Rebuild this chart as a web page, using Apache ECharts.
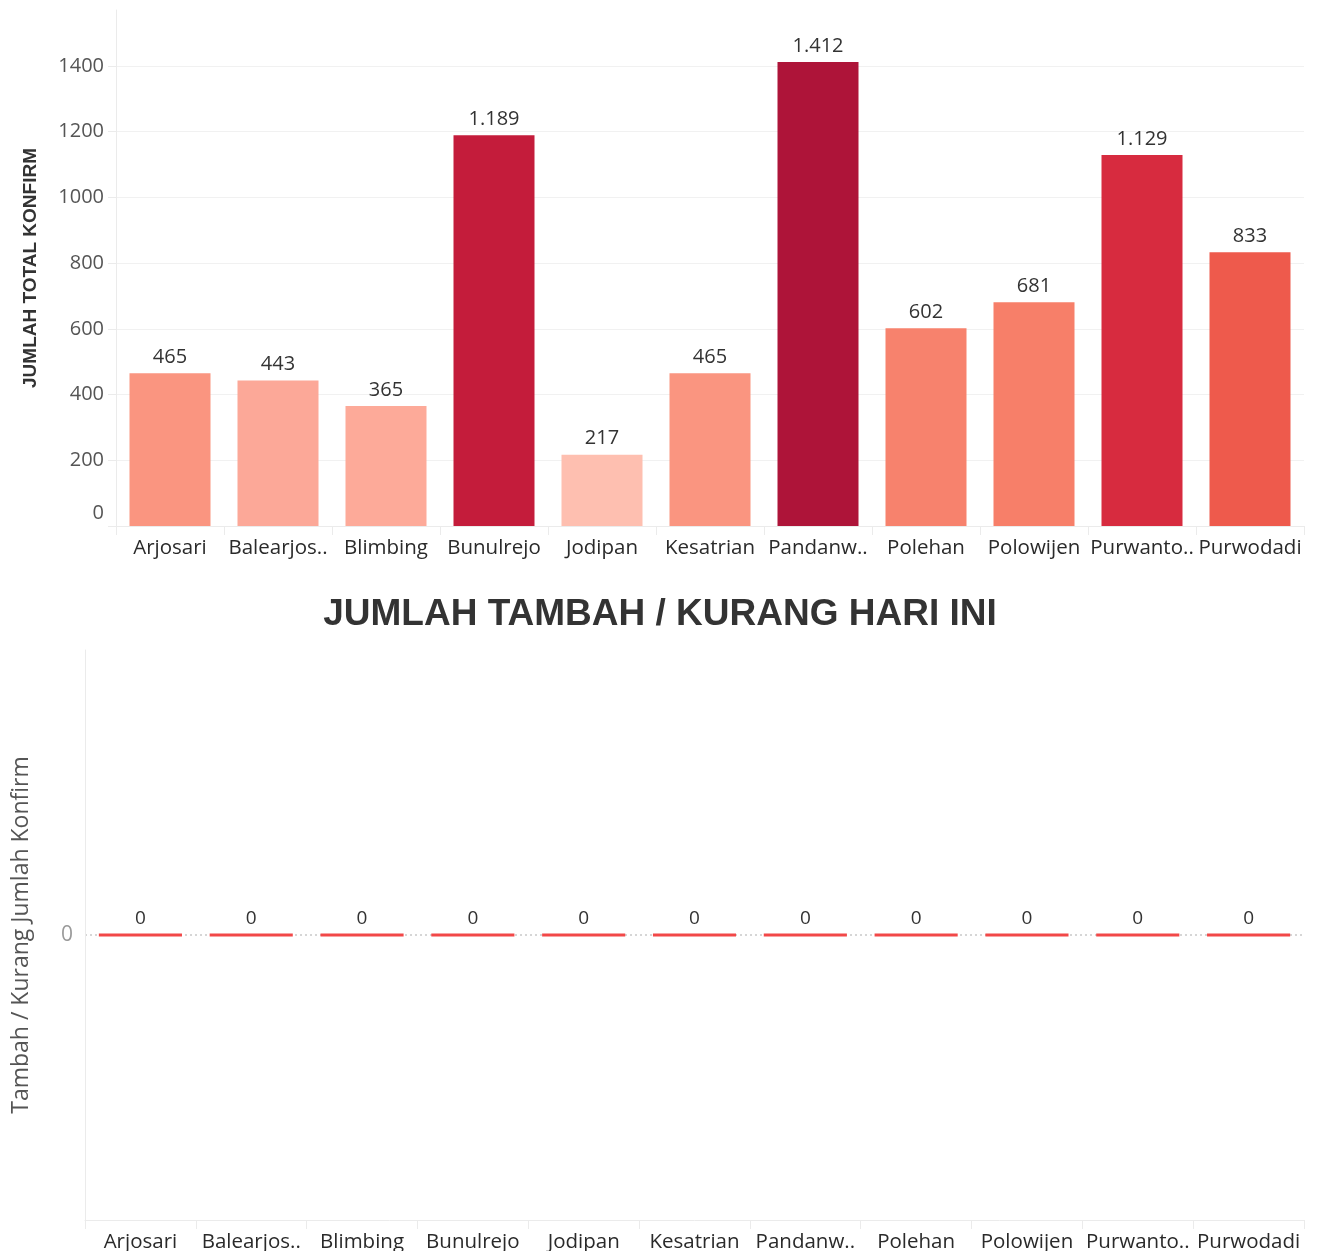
<!DOCTYPE html>
<html>
<head>
<meta charset="utf-8">
<script src="https://cdn.jsdelivr.net/npm/echarts@6/dist/echarts.min.js"></script>
<style>
  html, body { margin: 0; padding: 0; background: #fff; }
  #chart { width: 1319px; height: 1251px; }
</style>
</head>
<body>
<div id="chart"></div>
<script>
// Kelurahan names, shown labels and totals
const categories = ['Arjosari', 'Balearjosari', 'Blimbing', 'Bunulrejo', 'Jodipan', 'Kesatrian',
  'Pandanwangi', 'Polehan', 'Polowijen', 'Purwantoro', 'Purwodadi'];
const tickLabels = ['Arjosari', 'Balearjos..', 'Blimbing', 'Bunulrejo', 'Jodipan', 'Kesatrian',
  'Pandanw..', 'Polehan', 'Polowijen', 'Purwanto..', 'Purwodadi'];
const totalKonfirm = [465, 443, 365, 1189, 217, 465, 1412, 602, 681, 1129, 833];
const tambahKurang = [0, 0, 0, 0, 0, 0, 0, 0, 0, 0, 0];
const totalTicks = [0, 200, 400, 600, 800, 1000, 1200, 1400];

// colour of each bar, graded by its total
const barColors = ['#FA9580', '#FCA898', '#FDAA99', '#C41C3B', '#FEBFB0', '#FA9580',
  '#AE1439', '#F7826D', '#F77F69', '#D72B3F', '#EE5A4C'];

const FONT = '"Open Sans", sans-serif';
const fmtID = v => String(v).replace(/\B(?=(\d{3})+(?!\d))/g, '.');

const chart = echarts.init(document.getElementById('chart'), null, { renderer: 'canvas' });

const catLabel = { interval: 0, margin: 12, fontFamily: FONT, fontSize: 20.5, color: '#2a2a2a' };

chart.setOption({
  animation: false,
  backgroundColor: '#fff',
  title: {
    text: 'JUMLAH TAMBAH / KURANG HARI INI',
    left: 655,
    top: 591,
    textAlign: 'center',
    textStyle: {
      fontFamily: '"Liberation Sans Narrow", sans-serif',
      fontWeight: 'bold',
      fontSize: 37,
      color: '#333'
    }
  },
  grid: [
    { left: 116, right: 15, top: 10, height: 516, outerBoundsMode: 'none', containLabel: false },
    { left: 85, right: 15, top: 650, height: 570, outerBoundsMode: 'none', containLabel: false }
  ],
  xAxis: [
    {
      gridIndex: 0,
      type: 'category',
      data: tickLabels,
      axisLine: { show: true, lineStyle: { color: '#ebebeb', width: 1 } },
      axisTick: { show: true, length: 9, lineStyle: { color: '#ebebeb' } },
      axisLabel: catLabel,
      splitLine: { show: false }
    },
    {
      gridIndex: 1,
      type: 'category',
      data: tickLabels,
      axisLine: { show: true, onZero: false, lineStyle: { color: '#ebebeb', width: 1 } },
      axisTick: { show: true, length: 9, lineStyle: { color: '#ebebeb' } },
      axisLabel: catLabel,
      splitLine: { show: false }
    }
  ],
  yAxis: [
    {
      gridIndex: 0,
      type: 'value',
      min: 0,
      max: 1570,
      interval: 200,
      name: 'JUMLAH TOTAL KONFIRM',
      nameLocation: 'middle',
      nameGap: 76,
      nameRotate: 90,
      nameTextStyle: {
        fontFamily: '"Liberation Sans Narrow", sans-serif',
        fontWeight: 'bold',
        fontSize: 19,
        color: '#333'
      },
      axisLine: { show: true, lineStyle: { color: '#ebebeb' } },
      axisTick: { show: true, length: 8, lineStyle: { color: '#ebebeb' } },
      axisLabel: {
        showMaxLabel: false,
        margin: 12,
        fontFamily: FONT,
        fontSize: 20,
        color: '#555',
        formatter: v => (totalTicks.indexOf(v) < 0 ? '' : (v === 0 ? '{z|0}' : String(v))),
        rich: { z: { fontFamily: FONT, fontSize: 20, color: '#555', padding: [0, 0, 26, 0] } }
      },
      splitLine: {
        show: true,
        lineStyle: {
          color: ['#f1f1f1', '#f1f1f1', '#f1f1f1', '#f1f1f1', '#f1f1f1', '#f1f1f1', '#f1f1f1', '#f1f1f1', 'transparent'],
          width: 1
        }
      }
    },
    {
      gridIndex: 1,
      type: 'value',
      min: -1,
      max: 1,
      interval: 1,
      name: 'Tambah / Kurang Jumlah Konfirm',
      nameLocation: 'middle',
      nameGap: 52,
      nameRotate: 90,
      nameTextStyle: { fontFamily: FONT, fontSize: 23, color: '#555' },
      axisLine: { show: true, lineStyle: { color: '#ebebeb' } },
      axisTick: { show: false },
      axisLabel: {
        margin: 12,
        fontFamily: FONT,
        fontSize: 21,
        color: '#9a9a9a',
        formatter: v => (v === 0 ? '0' : '')
      },
      splitLine: {
        show: true,
        lineStyle: { color: ['transparent', '#c9c9c9', 'transparent'], width: 1.5, type: [2, 3] }
      }
    }
  ],
  series: [
    {
      type: 'bar',
      xAxisIndex: 0,
      yAxisIndex: 0,
      barWidth: '75%',
      data: totalKonfirm.map((v, i) => ({ value: v, itemStyle: { color: barColors[i] } })),
      label: {
        show: true,
        position: 'top',
        distance: 6,
        fontFamily: FONT,
        fontSize: 20,
        color: '#333',
        formatter: p => fmtID(p.value)
      }
    },
    {
      type: 'bar',
      xAxisIndex: 1,
      yAxisIndex: 1,
      barWidth: '75%',
      data: tambahKurang,
      itemStyle: { color: '#F24848', borderColor: '#F24848', borderWidth: 3 },
      label: {
        show: true,
        position: 'top',
        distance: 5,
        fontFamily: FONT,
        fontSize: 19,
        color: '#333',
        formatter: p => fmtID(p.value)
      }
    }
  ]
});
</script>
</body>
</html>
